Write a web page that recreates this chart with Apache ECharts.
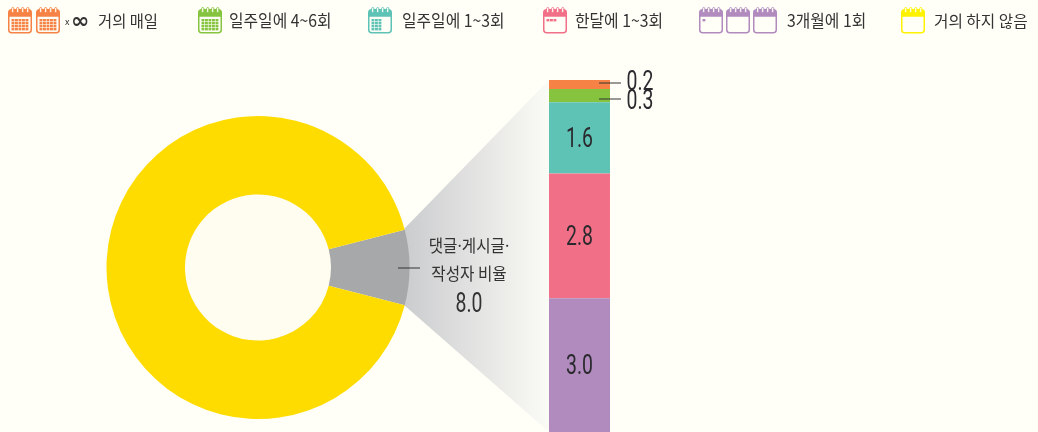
<!DOCTYPE html>
<html lang="ko">
<head>
<meta charset="utf-8">
<title>댓글·게시글 작성자 비율</title>
<script src="https://cdn.jsdelivr.net/npm/echarts@6/dist/echarts.min.js"></script>
<style>
  html, body { margin: 0; padding: 0; background: #fffff8; }
  #chart { width: 1038px; height: 432px; }
</style>
</head>
<body>
<div id="chart"></div>
<script>
const pieNames = ['댓글·게시글 작성자', '나머지']
const pieValues = [8.0, 92.0]
const stackNames = ['거의 매일', '일주일에 4~6회', '일주일에 1~3회', '한달에 1~3회', '3개월에 1회']
const stackValues = [0.2, 0.3, 1.6, 2.8, 3.0]
const stackColors = ['#f68345', '#86c440', '#5ec2b5', '#f27087', '#b18abe']
const legendLabels = ['거의 매일', '일주일에 4~6회', '일주일에 1~3회', '한달에 1~3회', '3개월에 1회', '거의 하지 않음']

const KR = '"Noto Sans CJK KR", sans-serif'
const DIGIT = 'Roboto, sans-serif'
const INK = '#333333'

// 범례 달력 아이콘
const calendar = (x, color, cells) => {
  const y = 8
  const parts = [
    { type: 'rect', shape: { x: x + 0.75, y: y + 1.75, width: 22.5, height: 23, r: 3 }, style: { fill: '#fffff8', stroke: color, lineWidth: 1.5 } },
    { type: 'rect', shape: { x: x + 0.75, y: y + 1.75, width: 22.5, height: 7, r: [3, 3, 0, 0] }, style: { fill: color } }
  ]
  for (let i = 0; i < 4; i++) {
    parts.push({ type: 'rect', shape: { x: x + 3.6 + i * 5, y: y - 0.5, width: 2.2, height: 5, r: 1.1 }, style: { fill: '#fffff8', stroke: color, lineWidth: 0.9 } })
  }
  cells.forEach(c => {
    parts.push({ type: 'rect', shape: { x: x + 3.5 + c[0] * 3.5, y: y + 11 + c[1] * 3, width: 2.9, height: 2.4 }, style: { fill: color } })
  })
  return { type: 'group', silent: true, children: parts }
}

const gridCells = (cols, rows) => {
  const out = []
  for (let c = 0; c < cols; c++) for (let r = 0; r < rows; r++) out.push([c, r])
  return out
}

const text = (x, y, str, size, opts = {}) => ({
  type: 'text',
  silent: true,
  x,
  y,
  scaleX: opts.scaleX || 1,
  style: {
    text: str,
    fontFamily: opts.font || KR,
    fontSize: size,
    fontWeight: opts.weight || 400,
    fill: opts.fill || INK,
    align: opts.align || 'left',
    verticalAlign: 'middle'
  }
})

const legendY = 21
const legendGraphics = [
  calendar(8, stackColors[0], gridCells(5, 4)),
  calendar(36, stackColors[0], gridCells(5, 4)),
  text(65, legendY + 1, 'x', 9),
  text(71, legendY + 1, '∞', 22, { font: 'DejaVu Sans', weight: 700, fill: '#333' }),
  text(98, legendY, legendLabels[0], 16, { scaleX: 0.96 }),
  calendar(198, stackColors[1], gridCells(5, 4)),
  text(229, legendY, legendLabels[1], 17, { scaleX: 0.93 }),
  calendar(368, stackColors[2], gridCells(3, 4)),
  text(402, legendY, legendLabels[2], 17, { scaleX: 0.93 }),
  calendar(543, stackColors[3], [[0, 0], [1, 0], [2, 0]]),
  text(575, legendY, legendLabels[3], 17, { scaleX: 0.93 }),
  calendar(699, stackColors[4], [[0, 0]]),
  calendar(726, stackColors[4], []),
  calendar(753, stackColors[4], []),
  text(787, legendY, legendLabels[4], 17, { scaleX: 0.93 }),
  calendar(901, '#fff200', []),
  text(934, legendY, legendLabels[5], 16, { scaleX: 0.98 })
]

const leader = (x1, x2, y) => ({
  type: 'line',
  silent: true,
  z: 20,
  shape: { x1, y1: y, x2, y2: y },
  style: { stroke: '#333', lineWidth: 1 }
})

// 막대 가운데 위치 (누적값의 중간)
const stackMids = stackValues.map((v, i) =>
  stackValues.slice(0, i).reduce((a, b) => a + b, 0) + v / 2
)

const chart = echarts.init(document.getElementById('chart'), null, { renderer: 'canvas' })

chart.setOption({
  backgroundColor: '#fffff8',
  animation: false,
  grid: { left: 549, top: 80, width: 61, height: 352 },
  xAxis: { type: 'category', data: ['작성 빈도'], show: false },
  yAxis: { type: 'value', inverse: true, min: 0, max: 7.9, show: false },
  graphic: [
    // 도넛 구멍 색
    {
      type: 'circle',
      silent: true,
      z: 0,
      shape: { cx: 258, cy: 267.5, r: 75 },
      style: { fill: '#fffcf0' }
    },
    // 도넛 조각에서 막대로 펼쳐지는 그라데이션
    {
      type: 'polygon',
      silent: true,
      z: 0,
      shape: { points: [[404, 229], [549, 80], [549, 432], [404, 305]] },
      style: {
        fill: new echarts.graphic.LinearGradient(0, 0, 1, 0, [
          { offset: 0, color: '#cbccce' },
          { offset: 1, color: '#fbfbf6' }
        ])
      }
    },
    ...legendGraphics,
    leader(398, 420, 268),
    leader(599, 621, 83),
    leader(599, 621, 99),
    text(469, 246, '댓글·게시글·', 17, { align: 'center', scaleX: 0.92 }),
    text(469, 274, '작성자 비율', 17, { align: 'center', scaleX: 0.92 }),
    text(469, 305, pieValues[0].toFixed(1), 27, { align: 'center', font: DIGIT, weight: 400, scaleX: 0.72 })
  ],
  series: [
    {
      type: 'pie',
      silent: true,
      z: 3,
      center: [258, 267.5],
      radius: [73, 151.5],
      startAngle: 14.4,
      label: { show: false },
      labelLine: { show: false },
      itemStyle: { borderWidth: 0 },
      data: pieNames.map((name, i) => ({
        name,
        value: pieValues[i],
        itemStyle: { color: i === 0 ? '#a7a8aa' : '#ffdc00' }
      }))
    },
    ...stackNames.map((name, i) => ({
      name,
      type: 'bar',
      stack: 'freq',
      silent: true,
      barWidth: '100%',
      itemStyle: { color: stackColors[i] },
      data: [stackValues[i]]
    })),
    // 좁은 숫자 라벨: bar label은 가로 축소가 안 돼서 custom으로 그림
    {
      type: 'custom',
      silent: true,
      z: 10,
      clip: false,
      encode: { x: 0, y: 1 },
      data: stackMids.map((mid, i) => [0, mid, stackValues[i]]),
      renderItem: (params, api) => {
        const p = api.coord([api.value(0), api.value(1)])
        const i = params.dataIndex
        const small = i < 2
        return {
          type: 'text',
          x: small ? p[0] + 47 : p[0],
          y: p[1] + 2.5 + (i === 0 ? -4 : i === 1 ? 4.5 : 0),
          scaleX: 0.72,
          style: {
            text: api.value(2).toFixed(1),
            fontFamily: DIGIT,
            fontWeight: 400,
            fontSize: 27,
            fill: '#2a2a2e',
            align: small ? 'left' : 'center',
            verticalAlign: 'middle'
          }
        }
      }
    }
  ]
})
</script>
</body>
</html>
